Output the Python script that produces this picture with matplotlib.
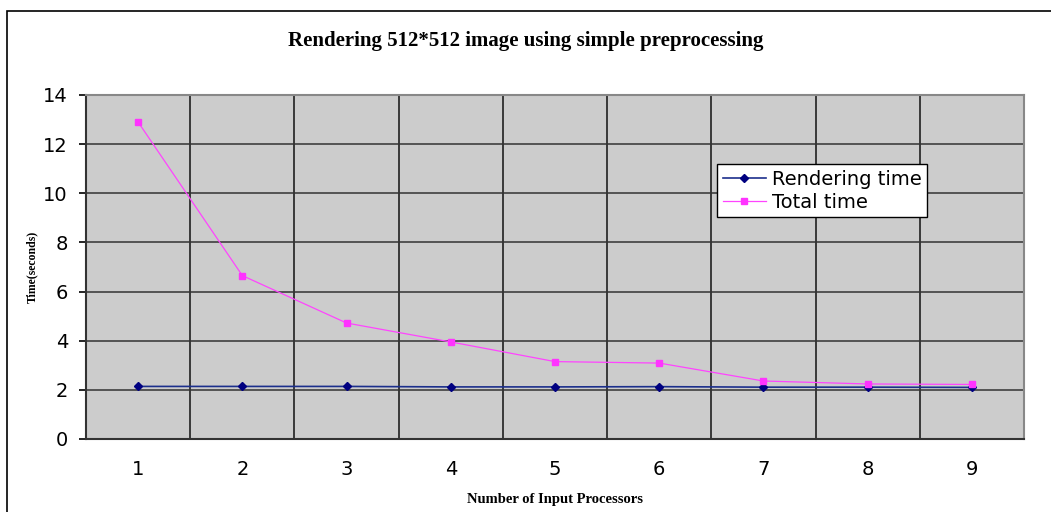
import matplotlib
matplotlib.use("Agg")
import matplotlib.pyplot as plt
from matplotlib.patches import Rectangle

processors = [1, 2, 3, 4, 5, 6, 7, 8, 9]
rendering_time = [2.14, 2.14, 2.14, 2.12, 2.12, 2.13, 2.11, 2.11, 2.10]
total_time = [12.9, 6.65, 4.72, 3.95, 3.15, 3.09, 2.36, 2.24, 2.22]
y_ticks = [0, 2, 4, 6, 8, 10, 12, 14]

fig = plt.figure(figsize=(10.51, 5.12), dpi=100)
fig.patches.append(Rectangle((7 / 1051, -0.1), 1.2, 1 - 11 / 512 + 0.1,
                             transform=fig.transFigure, fill=False,
                             edgecolor="black", linewidth=1.2))

ax = fig.add_axes([86 / 1051, 1 - 439 / 512, 938 / 1051, 344 / 512])
ax.set_facecolor("#cccccc")

ax.plot(processors, rendering_time, color="#1c2f8c", linewidth=1.2,
        marker="D", markersize=4, markerfacecolor="#000080",
        markeredgecolor="#000080", label="Rendering time")
ax.plot(processors, total_time, color="#ff44ff", linewidth=0.9,
        marker="s", markersize=4.5, markerfacecolor="#ff33ff",
        markeredgecolor="#ff33ff", label="Total time")

ax.set_xlim(0.5, 9.5)
ax.set_ylim(0, 14)
ax.set_yticks(y_ticks)
ax.set_xticks(processors)
ax.set_xticks([p + 0.5 for p in processors[:-1]], minor=True)
ax.grid(True, which="minor", axis="x", color="#111111", linewidth=1.1)
ax.grid(True, which="major", axis="y", color="#333333", linewidth=1.1)
ax.set_axisbelow(True)
ax.tick_params(axis="x", which="both", length=0, pad=15, labelsize=14)
ax.tick_params(axis="y", length=5, width=1.2, labelsize=14, pad=8)

for side in ["top", "right"]:
    ax.spines[side].set_color("#888888")
    ax.spines[side].set_linewidth(1.5)
for side in ["left", "bottom"]:
    ax.spines[side].set_color("#333333")
    ax.spines[side].set_linewidth(1.5)

ax.set_xlabel("Number of Input Processors", family="Liberation Serif",
              fontweight="bold", fontsize=10.5, labelpad=10)
ax.set_ylabel("Time(seconds)", family="Liberation Serif",
              fontweight="bold", fontsize=8.5, labelpad=4)
fig.text(0.5, 1 - 41 / 512, "Rendering 512*512 image using simple preprocessing",
         family="Liberation Serif", fontweight="bold", fontsize=15,
         ha="center", va="center")

leg = ax.legend(loc="upper left", bbox_to_anchor=(0.673, 0.80), fontsize=14,
                frameon=True, fancybox=False, framealpha=1, edgecolor="black",
                borderpad=0.3, labelspacing=0.2, handlelength=2.2,
                handletextpad=0.3, borderaxespad=0)
leg.get_frame().set_linewidth(1)

fig.savefig("out.png", dpi=100)
